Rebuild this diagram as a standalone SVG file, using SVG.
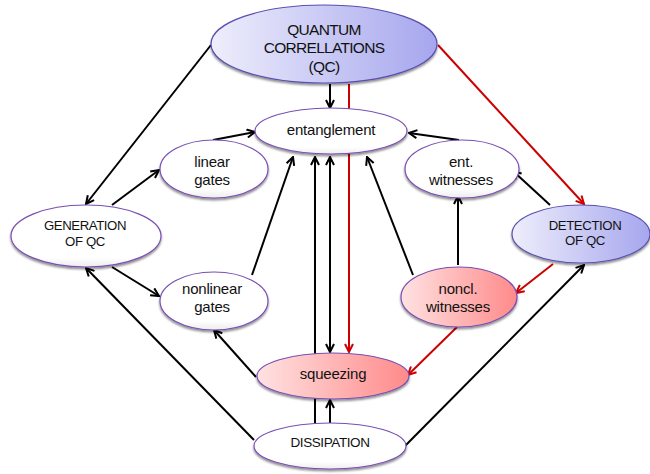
<svg xmlns="http://www.w3.org/2000/svg" width="650" height="474" viewBox="0 0 650 474">
<defs>
<linearGradient id="gBlue" x1="0" y1="0" x2="1" y2="0">
<stop offset="0" stop-color="#eeeefc"/><stop offset="1" stop-color="#a6a6ee"/>
</linearGradient>
<linearGradient id="gPink" x1="0" y1="0" x2="1" y2="0">
<stop offset="0" stop-color="#ffe2e2"/><stop offset="1" stop-color="#ff8a8a"/>
</linearGradient>
<linearGradient id="gWhite" x1="0" y1="0" x2="0" y2="1">
<stop offset="0" stop-color="#ffffff"/><stop offset="0.85" stop-color="#ffffff"/><stop offset="1" stop-color="#ececec"/>
</linearGradient>
<filter id="sh" x="-10%" y="-10%" width="120%" height="130%">
<feDropShadow dx="0" dy="2" stdDeviation="1.2" flood-color="#000" flood-opacity="0.45"/>
</filter>
<marker id="aB" viewBox="0 0 10 10" refX="9" refY="5" markerWidth="10" markerHeight="10" markerUnits="userSpaceOnUse" orient="auto-start-reverse">
<path d="M1,1 L9,5 L1,9" fill="none" stroke="#000" stroke-width="2"/>
</marker>
<marker id="aR" viewBox="0 0 10 10" refX="9" refY="5" markerWidth="10" markerHeight="10" markerUnits="userSpaceOnUse" orient="auto-start-reverse">
<path d="M1,1 L9,5 L1,9" fill="none" stroke="#cc0000" stroke-width="2"/>
</marker>
<style>
.c{stroke:#000;stroke-width:2;fill:none;marker-end:url(#aB)}
.n{stroke:#000;stroke-width:2;fill:none}
.r{stroke:#cc0000;stroke-width:2;fill:none;marker-end:url(#aR)}
.w{fill:url(#gWhite);stroke:#7a4fb4;stroke-width:1.2;filter:url(#sh)}
.b{fill:url(#gBlue);stroke:#5a4fb0;stroke-width:1.2;filter:url(#sh)}
.p{fill:url(#gPink);stroke:#7a4fb4;stroke-width:1.2;filter:url(#sh)}
text{font-family:"Liberation Sans",Arial,sans-serif;fill:#111;text-anchor:middle}
.t15{font-size:15px;letter-spacing:-0.2px}
.t13{font-size:13.2px;letter-spacing:-0.4px}
.tq{font-size:15.5px;letter-spacing:-0.7px}
</style>
</defs>
<g id="connectors">
<line class="c" x1="211" y1="45" x2="86" y2="204"/>
<line class="c" x1="112" y1="205" x2="159" y2="170"/>
<line class="c" x1="213" y1="140" x2="255" y2="132"/>
<line class="c" x1="112" y1="267" x2="159" y2="296"/>
<line class="c" x1="252" y1="275" x2="293" y2="157"/>
<line class="c" x1="254" y1="440" x2="86" y2="268"/>
<line class="c" x1="256" y1="377" x2="214" y2="330"/>
<line class="c" x1="330" y1="84" x2="330" y2="108"/>
<line class="c" x1="315" y1="423" x2="315" y2="157"/>
<line class="c" x1="330" y1="157" x2="330" y2="352" style="marker-start:url(#aB)"/>
<line class="c" x1="330" y1="423" x2="330" y2="400"/>
<line class="c" x1="413" y1="275" x2="367" y2="157"/>
<line class="c" x1="459" y1="140" x2="409" y2="133"/>
<line class="c" x1="550" y1="205" x2="513" y2="171"/>
<line class="c" x1="458" y1="265" x2="458" y2="196"/>
<line class="c" x1="405" y1="446" x2="584" y2="265"/>
<line class="r" x1="349" y1="84" x2="349" y2="352"/>
<line class="r" x1="438" y1="45" x2="584" y2="204"/>
<line class="r" x1="553" y1="264" x2="516" y2="293"/>
<line class="r" x1="457" y1="327" x2="408" y2="375"/>
</g>
<g id="qc">
<ellipse class="b" cx="324" cy="44" rx="113" ry="39"/>
<text class="tq" x="324" y="35">QUANTUM</text>
<text class="tq" x="324" y="53">CORRELLATIONS</text>
<text class="tq" x="324" y="72">(QC)</text>
</g>
<g id="entanglement">
<ellipse class="w" cx="331" cy="131" rx="76" ry="23"/>
<text class="t15" x="331" y="135">entanglement</text>
</g>
<g id="linear-gates">
<ellipse class="w" cx="214" cy="169" rx="54" ry="29"/>
<text class="t15" x="212" y="167">linear</text>
<text class="t15" x="212" y="185">gates</text>
</g>
<g id="generation">
<ellipse class="w" cx="86" cy="236" rx="75" ry="31"/>
<text class="t13" x="85" y="230">GENERATION</text>
<text class="t13" x="85" y="246">OF QC</text>
</g>
<g id="nonlinear-gates">
<ellipse class="w" cx="214" cy="301" rx="54" ry="29"/>
<text class="t15" x="212" y="294">nonlinear</text>
<text class="t15" x="212" y="312">gates</text>
</g>
<g id="ent-witnesses">
<ellipse class="w" cx="462" cy="169" rx="57" ry="29"/>
<text class="t15" x="461" y="167">ent.</text>
<text class="t15" x="461" y="185">witnesses</text>
</g>
<g id="detection">
<ellipse class="b" cx="581" cy="234" rx="69" ry="29"/>
<text class="t13" x="585" y="230">DETECTION</text>
<text class="t13" x="585" y="245">OF QC</text>
</g>
<g id="noncl-witnesses">
<ellipse class="p" cx="459" cy="297" rx="58" ry="30"/>
<text class="t15" x="458" y="294">noncl.</text>
<text class="t15" x="458" y="312">witnesses</text>
</g>
<g id="squeezing">
<ellipse class="p" cx="333" cy="376" rx="76" ry="23"/>
<text class="t15" x="333" y="379">squeezing</text>
</g>
<g id="dissipation">
<ellipse class="w" cx="330" cy="446" rx="76" ry="23"/>
<text class="t13" x="330" y="447" style="font-size:13.5px">DISSIPATION</text>
</g>
</svg>
